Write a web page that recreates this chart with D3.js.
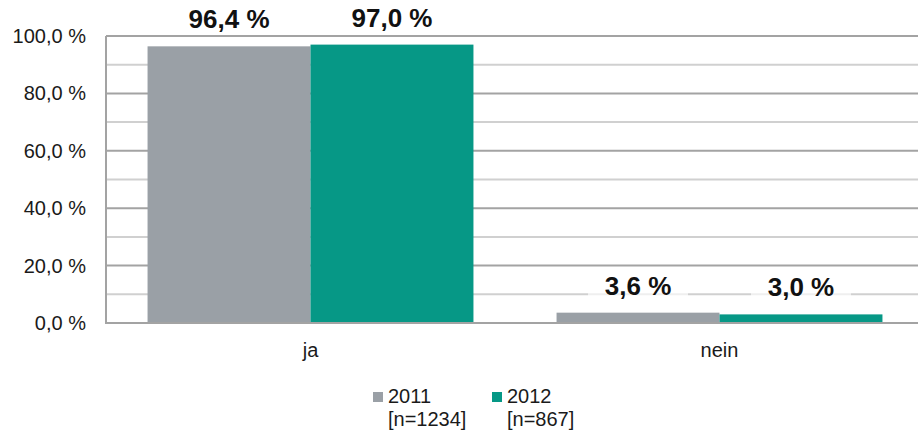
<!DOCTYPE html>
<html>
<head>
<meta charset="utf-8">
<script src="https://cdn.jsdelivr.net/npm/d3@7"></script>
<style>
  body { margin: 0; background: #fff; }
  svg { display: block; font-family: "Liberation Sans", Arial, sans-serif; }
</style>
</head>
<body>
<svg></svg>
<script>
var width = 918;
var height = 433;

var categories = ['ja', 'nein'];
var years = ['2011', '2012'];
var sampleSizes = ['[n=1234]', '[n=867]'];
var values2011 = [96.4, 3.6];
var values2012 = [97.0, 3.0];
var yTicks = [0, 20, 40, 60, 80, 100];
var colors = ['#9aa0a6', '#069886'];

var fmt = function(v) { return v.toFixed(1).replace('.', ',') + ' %'; };

var svg = d3.select('svg')
    .attr('width', width)
    .attr('height', height);

var xScale = d3.scaleBand()
    .domain(categories)
    .range([106, 924])
    .padding(0);

var xInner = d3.scaleBand()
    .domain(years)
    .range([0, xScale.bandwidth()])
    .paddingInner(0)
    .paddingOuter(0.255);

var yScale = d3.scaleLinear()
    .domain([0, 100])
    .range([323, 36]);

// gridlines: minor every 10, major every 20
var gridVals = d3.range(10, 101, 10);
svg.append('g')
    .selectAll('line')
    .data(gridVals)
    .enter()
    .append('line')
    .attr('x1', 106)
    .attr('x2', width)
    .attr('y1', d => yScale(d))
    .attr('y2', d => yScale(d))
    .attr('stroke', d => d % 20 === 0 ? '#a3a3a3' : '#d0d0d0')
    .attr('stroke-width', 2);

// y axis labels
svg.append('g')
    .attr('transform', 'translate(106,0)')
    .call(d3.axisLeft(yScale).tickValues(yTicks).tickSize(0).tickPadding(20).tickFormat(fmt))
    .call(g => g.select('.domain').remove())
    .selectAll('text')
    .style('font-size', '20px')
    .attr('fill', '#1a1a1a');

var series = years.map((y, i) => ({
    year: y,
    values: i === 0 ? values2011 : values2012
}));

var bars = [];
series.forEach(s => {
    s.values.forEach((v, j) => bars.push({ year: s.year, cat: categories[j], value: v }));
});

svg.append('g')
    .selectAll('rect')
    .data(bars)
    .enter()
    .append('rect')
    .attr('x', d => xScale(d.cat) + xInner(d.year))
    .attr('y', d => yScale(d.value))
    .attr('width', xInner.bandwidth())
    .attr('height', d => yScale(0) - yScale(d.value))
    .attr('fill', d => colors[years.indexOf(d.year)]);

// axes lines
svg.append('line')
    .attr('x1', 106).attr('x2', 106)
    .attr('y1', 36).attr('y2', 324)
    .attr('stroke', '#a3a3a3').attr('stroke-width', 2);

svg.append('line')
    .attr('x1', 105).attr('x2', width)
    .attr('y1', 323).attr('y2', 323)
    .attr('stroke', '#a3a3a3').attr('stroke-width', 2);

// data labels with semi-transparent white boxes
var labels = svg.append('g')
    .selectAll('g')
    .data(bars)
    .enter()
    .append('g')
    .attr('transform', d => 'translate(' + (xScale(d.cat) + xInner(d.year) + xInner.bandwidth() / 2) + ',' + (yScale(d.value) - 18) + ')');

labels.append('rect')
    .attr('x', -50)
    .attr('y', -24)
    .attr('width', 100)
    .attr('height', 30)
    .attr('fill', '#fff')
    .attr('opacity', 0.65);

labels.append('text')
    .text(d => fmt(d.value))
    .attr('text-anchor', 'middle')
    .style('font-size', '26px')
    .style('font-weight', 'bold')
    .attr('fill', '#111');

// category labels
svg.append('g')
    .selectAll('text')
    .data(categories)
    .enter()
    .append('text')
    .text(d => d)
    .attr('x', d => xScale(d) + xScale.bandwidth() / 2)
    .attr('y', 357)
    .attr('text-anchor', 'middle')
    .style('font-size', '20px')
    .attr('fill', '#1a1a1a');

// legend
var legendX = [373, 492];
var legend = svg.append('g')
    .selectAll('g')
    .data(years)
    .enter()
    .append('g')
    .attr('transform', (d, i) => 'translate(' + legendX[i] + ',0)');

legend.append('rect')
    .attr('x', 0)
    .attr('y', 392)
    .attr('width', 10)
    .attr('height', 10)
    .attr('fill', (d, i) => colors[i]);

legend.append('text')
    .text(d => d)
    .attr('x', 15)
    .attr('y', 403)
    .style('font-size', '20px')
    .attr('fill', '#1a1a1a');

legend.append('text')
    .text((d, i) => sampleSizes[i])
    .attr('x', 15)
    .attr('y', 426)
    .style('font-size', '20px')
    .attr('fill', '#1a1a1a');
</script>
</body>
</html>
